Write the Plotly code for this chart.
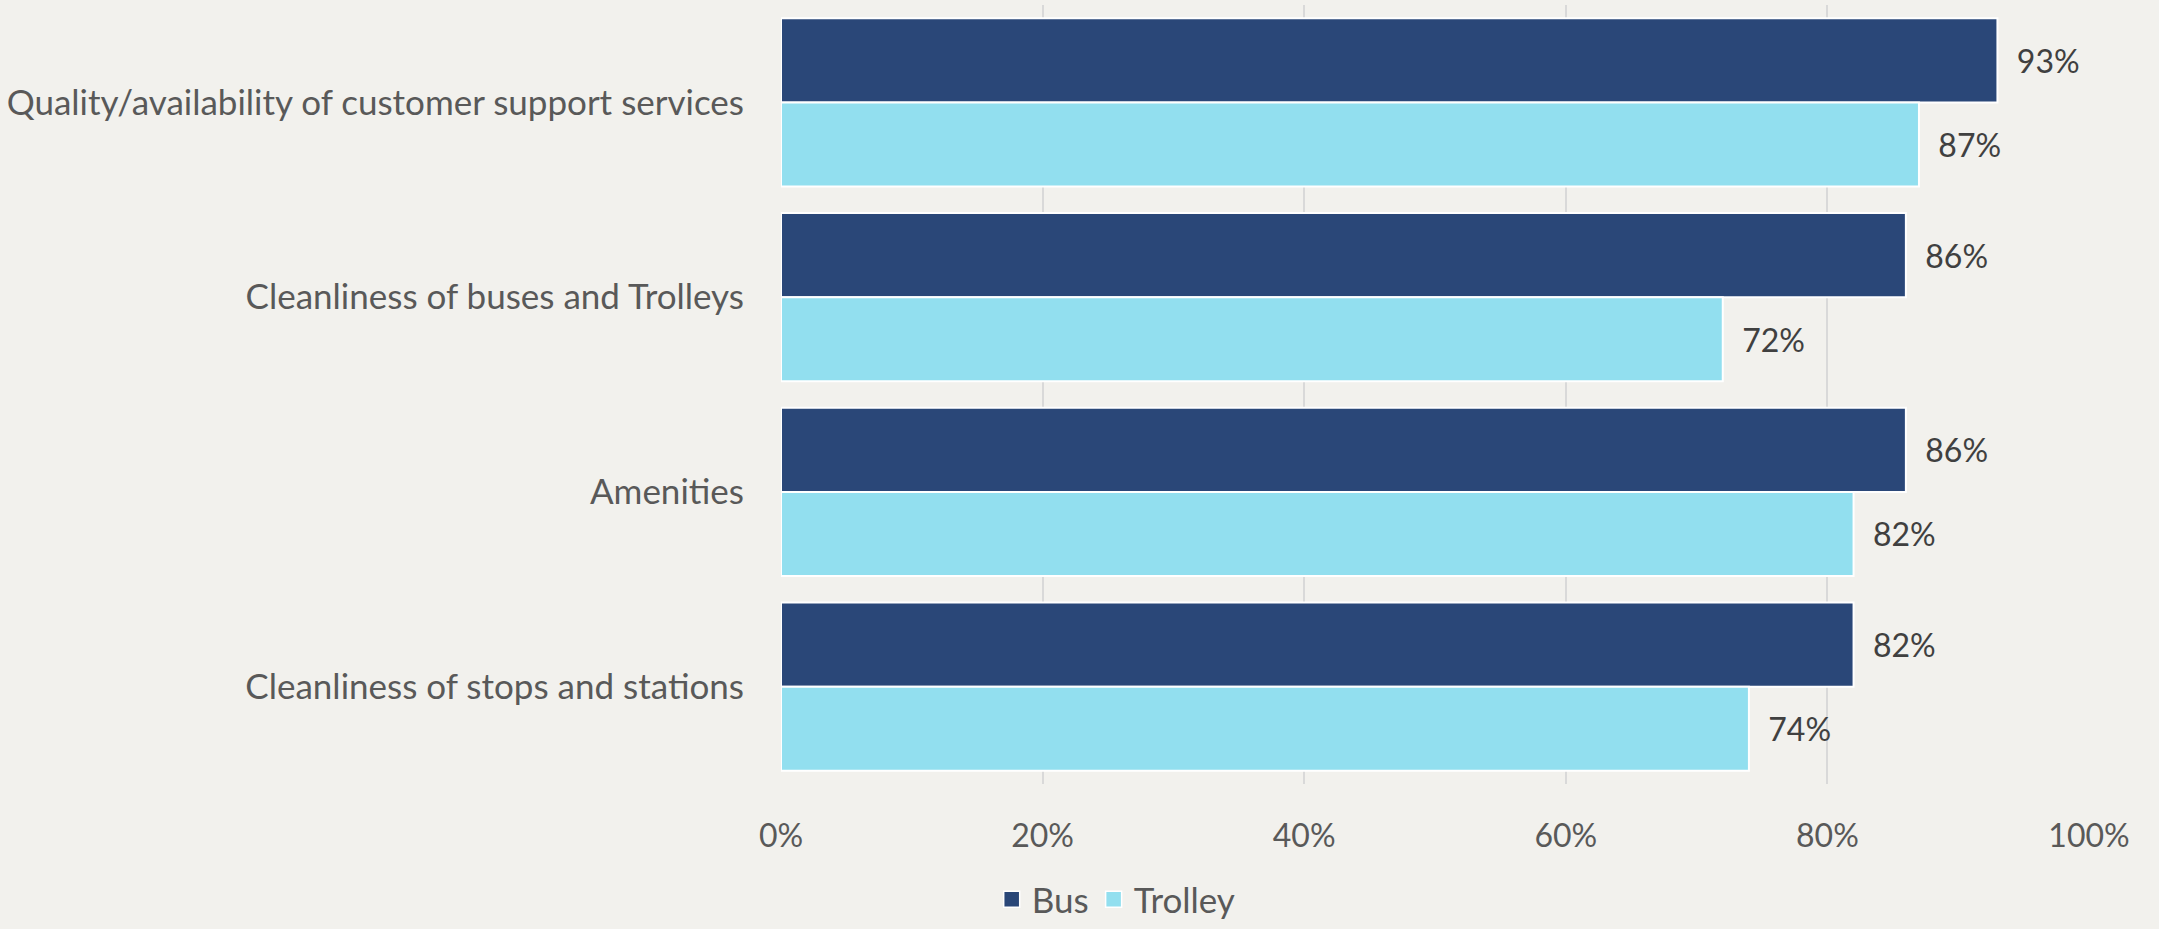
import plotly.graph_objects as go

# Survey items (top to bottom) and share of riders satisfied, in percent
categories = [
    "Quality/availability of customer support services",
    "Cleanliness of buses and Trolleys",
    "Amenities",
    "Cleanliness of stops and stations",
]
bus_values = [93, 86, 86, 82]
trolley_values = [87, 72, 82, 74]
x_ticks = [0, 20, 40, 60, 80, 100]

BUS_COLOR = "#2A4778"
TROLLEY_COLOR = "#92DFEF"
BG = "#F2F1ED"
FONT = "Lato"

fig = go.Figure()
series = [("Bus", bus_values, BUS_COLOR), ("Trolley", trolley_values, TROLLEY_COLOR)]
for name, vals, color in series:
    fig.add_trace(go.Bar(
        name=name,
        y=categories,
        x=vals,
        orientation="h",
        marker=dict(color=color, line=dict(color="white", width=2)),
        texttemplate="\u00a0\u00a0%{x}%",
        textposition="outside",
        cliponaxis=False,
        textfont=dict(family=FONT, size=32, color="#404040"),
        showlegend=False,
    ))

# legend entries with larger square swatches
for name, _, color in series:
    fig.add_trace(go.Scatter(
        name=name,
        x=[None],
        y=[None],
        mode="markers",
        marker=dict(symbol="square", size=16, color=color, line=dict(color="white", width=1.5)),
        showlegend=True,
    ))

fig.update_layout(
    width=2159,
    height=929,
    barmode="group",
    bargap=0.137,
    bargroupgap=0,
    paper_bgcolor=BG,
    plot_bgcolor=BG,
    margin=dict(l=781, r=70, t=5, b=145),
    font=dict(family=FONT, color="#595959"),
    legend=dict(
        orientation="h",
        xref="container",
        yref="container",
        x=0.517,
        xanchor="center",
        y=0.0,
        yanchor="bottom",
        font=dict(family=FONT, size=35, color="#595959"),
        itemwidth=30,
        traceorder="normal",
    ),
    showlegend=True,
)
fig.update_xaxes(
    range=[0, 100],
    tickvals=x_ticks,
    ticktext=[f"{t}%" for t in x_ticks],
    showgrid=True,
    gridcolor="#D9D9D9",
    gridwidth=2,
    zeroline=False,
    showline=False,
    tickfont=dict(family=FONT, size=32, color="#595959"),
    ticklabelstandoff=30,
)
fig.update_yaxes(
    autorange="reversed",
    showgrid=False,
    showline=False,
    tickfont=dict(family=FONT, size=35, color="#595959"),
    ticklabelstandoff=36,
)

fig.write_html("out.html")
